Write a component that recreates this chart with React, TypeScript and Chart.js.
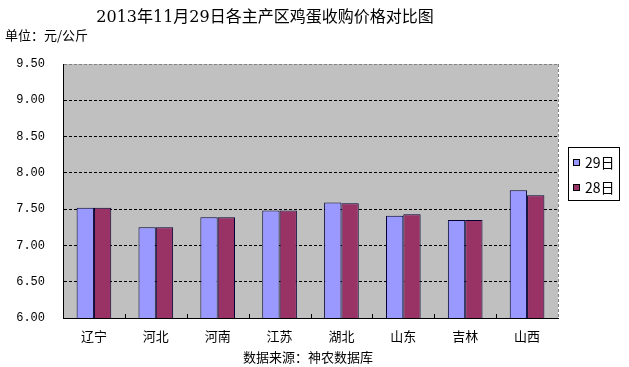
import React, { useEffect, useRef } from "react";
import { Chart, registerables } from "chart.js";

Chart.register(...registerables);

const categories = ["辽宁", "河北", "河南", "江苏", "湖北", "山东", "吉林", "山西"];
const series29 = [7.52, 7.25, 7.39, 7.48, 7.59, 7.41, 7.35, 7.76];
const series28 = [7.52, 7.25, 7.39, 7.48, 7.58, 7.43, 7.35, 7.69];
const seriesLabels = ["29日", "28日"];
const yTicks = [6.0, 6.5, 7.0, 7.5, 8.0, 8.5, 9.0, 9.5];
const titleText = "2013年11月29日各主产区鸡蛋收购价格对比图";
const unitText = "单位：元/公斤";
const sourceText = "数据来源：神农数据库";

const CJK = '"Noto Sans CJK SC", "DejaVu Sans", sans-serif';

const decorPlugin = {
  id: "decor",
  beforeDraw(chart: any) {
    const { ctx, chartArea } = chart;
    ctx.save();
    ctx.fillStyle = "#ffffff";
    ctx.fillRect(0, 0, chart.width, chart.height);
    ctx.fillStyle = "#C0C0C0";
    ctx.fillRect(chartArea.left, chartArea.top, chartArea.right - chartArea.left, chartArea.bottom - chartArea.top);
    ctx.restore();
  },
  afterDraw(chart: any) {
    const { ctx, chartArea } = chart;
    const xs = chart.scales.x;
    ctx.save();
    // right border dashed gray
    ctx.strokeStyle = "#808080";
    ctx.lineWidth = 1;
    ctx.setLineDash([3, 2]);
    ctx.beginPath();
    ctx.moveTo(Math.round(chartArea.right) + 0.5, chartArea.top);
    ctx.lineTo(Math.round(chartArea.right) + 0.5, chartArea.bottom);
    ctx.stroke();
    ctx.setLineDash([]);
    // inward category ticks
    ctx.strokeStyle = "#000";
    const n = categories.length;
    const w = (chartArea.right - chartArea.left) / n;
    for (let i = 1; i < n; i++) {
      const x = Math.round(xs.getPixelForValue(i) - w / 2) + 0.5;
      ctx.beginPath();
      ctx.moveTo(x, chartArea.bottom);
      ctx.lineTo(x, chartArea.bottom - 4);
      ctx.stroke();
    }
    // texts
    ctx.fillStyle = "#000";
    ctx.textBaseline = "middle";
    ctx.textAlign = "center";
    ctx.font = '16px "DejaVu Serif", "Noto Sans CJK SC", serif';
    ctx.fillText(titleText, 265, 18);
    ctx.textAlign = "left";
    ctx.font = "13px " + CJK;
    ctx.fillText(unitText, 5, 35);
    ctx.textAlign = "center";
    ctx.fillText(sourceText, 308, 357);
    // legend
    const lx = 568, ly = 147, lw = 51, lh = 53;
    ctx.fillStyle = "#fff";
    ctx.fillRect(lx, ly, lw, lh);
    ctx.strokeStyle = "#000";
    ctx.strokeRect(lx + 0.5, ly + 0.5, lw, lh);
    const ds = chart.data.datasets;
    ds.forEach((d: any, i: number) => {
      const cy = 162 + i * 25;
      ctx.fillStyle = d.backgroundColor;
      ctx.fillRect(573, cy - 3, 7, 7);
      ctx.strokeStyle = "#000";
      ctx.strokeRect(573.5, cy - 2.5, 6, 6);
      ctx.fillStyle = "#000";
      ctx.textAlign = "left";
      ctx.font = "14px " + CJK;
      ctx.fillText(d.label, 585, cy + 1);
    });
    ctx.restore();
  },
};

export default function App() {
  const ref = useRef<HTMLCanvasElement>(null);
  useEffect(() => {
    if (!ref.current) return;
    const chart = new Chart(ref.current, {
      type: "bar",
      data: {
        labels: categories,
        datasets: [
          {
            label: seriesLabels[0],
            data: series29,
            backgroundColor: "#9999FF",
            borderColor: "#000033",
            borderWidth: 1,
            categoryPercentage: 0.56,
            barPercentage: 1,
          },
          {
            label: seriesLabels[1],
            data: series28,
            backgroundColor: "#993366",
            borderColor: "#000033",
            borderWidth: 1,
            categoryPercentage: 0.56,
            barPercentage: 1,
          },
        ],
      },
      options: {
        responsive: false,
        animation: false,
        layout: { padding: { left: 0, top: 64, right: 71, bottom: 0 } },
        plugins: { legend: { display: false }, title: { display: false }, tooltip: { enabled: false } },
        scales: {
          x: {
            grid: { display: false, drawTicks: false },
            border: { display: true, color: "#000", width: 1 },
            ticks: { color: "#000", font: { size: 13, family: CJK }, padding: 10 },
            afterFit(scale: any) {
              scale.height = 49;
            },
          },
          y: {
            min: 6,
            max: 9.5,
            afterBuildTicks(scale: any) {
              scale.ticks = yTicks.map((v) => ({ value: v }));
            },
            grid: {
              drawTicks: false,
              color: (c: any) => (c.tick && c.tick.value === 9.5 ? "#808080" : "#000"),
              lineWidth: 1,
            },
            border: { display: true, color: "#000", width: 1, dash: [3, 2] },
            ticks: {
              color: "#000",
              font: { size: 12, family: '"Liberation Mono", monospace' },
              padding: 18,
              callback: (v: any) => Number(v).toFixed(2),
            },
            afterFit(scale: any) {
              scale.width = 63;
            },
          },
        },
      },
      plugins: [decorPlugin],
    });
    return () => chart.destroy();
  }, []);
  return (
    <div style={{ position: "absolute", left: 0, top: 0, width: 629, height: 367, background: "#fff" }}>
      <canvas ref={ref} width={629} height={367} style={{ display: "block" }} />
    </div>
  );
}
